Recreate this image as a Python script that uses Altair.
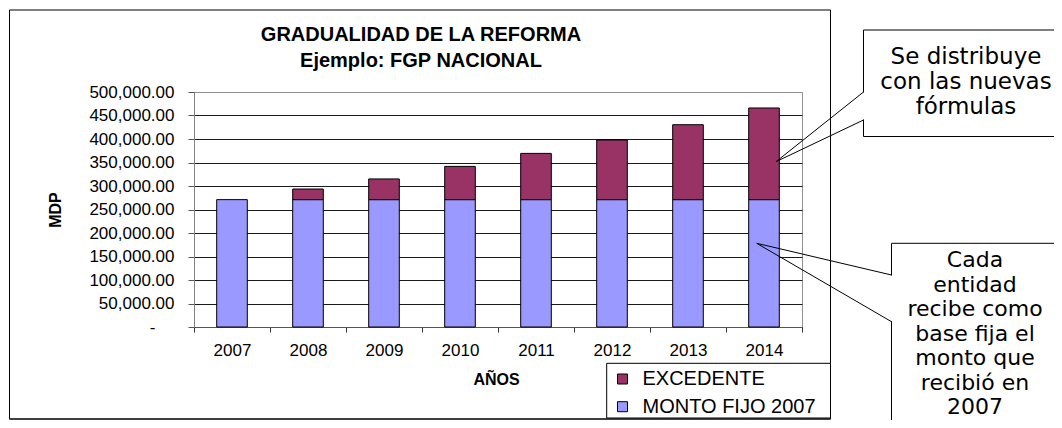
import altair as alt
import pandas as pd

# ---------------- data ----------------
years = ["2007", "2008", "2009", "2010", "2011", "2012", "2013", "2014"]
monto_fijo = [271000, 271000, 271000, 271000, 271000, 271000, 271000, 271000]
excedente = [0, 22600, 44000, 70700, 98400, 126900, 159400, 195000]
series = ["EXCEDENTE", "MONTO FIJO 2007"]
colors = ["#993366", "#9999FF"]
y_ticks = [0, 50000, 100000, 150000, 200000, 250000, 300000, 350000, 400000, 450000, 500000]

title_lines = ["GRADUALIDAD DE LA REFORMA", "Ejemplo: FGP NACIONAL"]
callout1_lines = ["Se distribuye", "con las nuevas", "fórmulas"]
callout2_lines = ["Cada", "entidad", "recibe como", "base fija el", "monto que", "recibió en", "2007"]

rows = []
for i, yr in enumerate(years):
    rows.append({"year": yr, "series": series[1], "value": monto_fijo[i], "ord": 0})
    rows.append({"year": yr, "series": series[0], "value": excedente[i], "ord": 1})
df = pd.DataFrame(rows)

ARIAL = "Liberation Sans"
CALL = "DejaVu Sans"
ann = alt.Data(values=[{"a": 1}])

# ---------------- bars ----------------
bars = alt.Chart(df).transform_filter("datum.value > 0").mark_bar(
    size=30.6, stroke="black", strokeWidth=1
).encode(
    x=alt.X(
        "year:O", sort=years,
        scale=alt.Scale(paddingInner=0, paddingOuter=0),
        axis=alt.Axis(
            title=None, labelAngle=0, labelFont=ARIAL, labelFontSize=17,
            labelColor="black", tickColor="#333333", tickSize=5,
            tickBand="extent", labelPadding=10, domainColor="#555555", grid=False,
        ),
    ),
    y=alt.Y(
        "value:Q", stack="zero",
        scale=alt.Scale(domain=[0, 500000], nice=False),
        axis=alt.Axis(
            title=None, values=y_ticks,
            labelExpr="datum.value == 0 ? '-' : format(datum.value, ',.2f')",
            labelFont=ARIAL, labelFontSize=17, labelColor="black",
            tickColor="#555555", tickSize=6,
            labelPadding=alt.condition("datum.value == 0", alt.value(33), alt.value(14)),
            domainColor="#808080",
            gridColor=alt.condition("datum.value >= 500000", alt.value("#909090"), alt.value("#1a1a1a")),
            gridWidth=1,
        ),
    ),
    color=alt.Color(
        "series:N",
        scale=alt.Scale(domain=series, range=colors),
        legend=alt.Legend(
            title=None, orient="none", legendX=418.5, legendY=277,
            symbolType="square", symbolSize=100, symbolStrokeColor="black",
            symbolStrokeWidth=1, labelFont=ARIAL, labelFontSize=20,
            labelColor="black", rowPadding=7.7, padding=0, labelOffset=10,
            labelLimit=400,
        ),
    ),
    order=alt.Order("ord:Q", sort="ascending"),
)

# ---------------- decorations ----------------
def rect(x, x2, y, y2, stroke="black", fill="white", fill_opacity=1.0, sw=1):
    return alt.Chart(ann).mark_rect(
        stroke=stroke, fill=fill, fillOpacity=fill_opacity, strokeWidth=sw
    ).encode(x=alt.value(x), x2=alt.value(x2), y=alt.value(y), y2=alt.value(y2))


def rule(x, x2, y, y2, color="black", sw=1):
    return alt.Chart(ann).mark_rule(color=color, strokeWidth=sw).encode(
        x=alt.value(x), x2=alt.value(x2), y=alt.value(y), y2=alt.value(y2)
    )


def text(t, x, y, size, font, weight="normal", angle=0):
    return alt.Chart(ann).mark_text(
        font=font, fontSize=size, fontWeight=weight, color="black",
        align="center", baseline="middle", angle=angle,
    ).encode(x=alt.value(x), y=alt.value(y), text=alt.value(t))


chart_box = rect(-184.5, 636.5, -82, 327, fill="white", fill_opacity=0)
chart_box_bottom = rule(-184.5, 636.5, 327, 327, color="#404040", sw=2)

legend_box = rect(412.7, 636.5, 271.3, 326, fill="white")

layers = [chart_box, chart_box_bottom, legend_box, bars]

# titles
layers.append(text(title_lines[0], 227, -57, 20, ARIAL, "bold"))
layers.append(text(title_lines[1], 227, -31, 20, ARIAL, "bold"))
layers.append(text("MDP", -138.5, 118, 16, ARIAL, "bold", angle=270))
layers.append(text("AÑOS", 302.6, 288, 16, ARIAL, "bold"))

# callout 1
layers.append(rect(669.5, 900, -62, 44.5))
layers.append(rule(669.5, 669.5, 0.5, 27.5, color="white", sw=3))
layers.append(rule(669.5, 582, 0, 69.7))
layers.append(rule(669.5, 582, 28, 69.7))
for i, ln in enumerate(callout1_lines):
    layers.append(text(ln, 772, -35 + 25 * i, 23, CALL))

# callout 2
layers.append(rect(697.5, 900, 151.3, 400))
layers.append(rule(697.5, 697.5, 183.5, 229.2, color="white", sw=3))
layers.append(rule(697.5, 562.7, 183, 151.3))
layers.append(rule(697.5, 562.7, 229.7, 151.3))
for i, ln in enumerate(callout2_lines):
    layers.append(text(ln, 781, 168 + 24.5 * i, 22, CALL))

chart = alt.layer(*layers).properties(
    width=608, height=235,
    autosize=alt.AutoSizeParams(type="none"),
    padding={"left": 186, "top": 84, "right": 252, "bottom": 93},
    background="white",
).configure_view(stroke="#909090", strokeWidth=1)

chart.save("out.html", embed_options={"renderer": "svg", "actions": False})
